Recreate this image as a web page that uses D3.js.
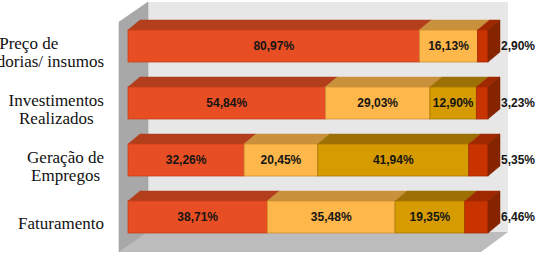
<!DOCTYPE html>
<html>
<head>
<meta charset="utf-8">
<script src="https://cdn.jsdelivr.net/npm/d3@7"></script>
<style>
  body { margin: 0; background: #fff; }
  svg { display: block; }
</style>
</head>
<body>
<div id="canvas"></div>
<script>
// DATA
const categories = [
  ["Preço de", "Mercadorias/ insumos"],
  ["Investimentos", "Realizados"],
  ["Geração de", "Empregos"],
  ["Faturamento"]
];
const serie1 = [80.97, 54.84, 32.26, 38.71];
const serie2 = [16.13, 29.03, 20.45, 35.48];
const serie3 = [0, 12.90, 41.94, 19.35];
const serie4 = [2.90, 3.23, 5.35, 6.46];
const series = [serie1, serie2, serie3, serie4];

// STYLES
const fronts = ["#E84E23", "#FDB74A", "#D59B00", "#C83300"];
const tops = ["#B23E1C", "#C9913C", "#9C7004", "#A02800"];
const strokes = ["#C44219", "#D18C30", "#A87800", "#A82A00"];
const sideColor = "#862400";

// DIMENSIONS
const width = 540;
const height = 269;
const depth = { x: 12, y: -10 };

const canvas = d3.select("#canvas")
  .append("svg")
  .attr("width", width)
  .attr("height", height);

// WALLS AND FLOOR
canvas.append("rect")
  .attr("x", 148).attr("y", 2)
  .attr("width", 360).attr("height", 230)
  .attr("fill", "#e7e7e7");

canvas.append("polygon")
  .attr("points", "119,22 148,2 148,232 119,252")
  .attr("fill", "#a8a8a8")
  .attr("stroke", "#999").attr("stroke-width", 0.5);

canvas.append("polygon")
  .attr("points", "119,252 148,232 508,232 481,252")
  .attr("fill", "#bcbcbc");

// SCALES
const x = d3.scaleLinear().domain([0, 100]).range([128, 488]);
const y = d3.scaleBand()
  .domain(d3.range(categories.length))
  .range([17.5, 245.5])
  .paddingInner(0.4386)
  .paddingOuter(0.2193);

const plot = canvas.append("g");

categories.forEach((cat, i) => {
  const y0 = y(i);
  const h = y.bandwidth();
  let acc = 0;
  const segs = series.map((s, k) => {
    const seg = { k: k, v: s[i], x0: x(acc), x1: x(acc + s[i]) };
    acc += s[i];
    return seg;
  }).filter(d => d.v > 0);

  const g = plot.append("g");

  // top faces
  g.selectAll("polygon.top")
    .data(segs)
    .join("polygon")
    .attr("class", "top")
    .attr("points", d => [
      [d.x0, y0], [d.x1, y0],
      [d.x1 + depth.x, y0 + depth.y], [d.x0 + depth.x, y0 + depth.y]
    ].join(" "))
    .attr("fill", d => tops[d.k])
    .attr("stroke", d => tops[d.k])
    .attr("stroke-width", 0.5);

  // front faces
  g.selectAll("rect.front")
    .data(segs)
    .join("rect")
    .attr("class", "front")
    .attr("x", d => d.x0)
    .attr("y", y0)
    .attr("width", d => d.x1 - d.x0)
    .attr("height", h)
    .attr("fill", d => fronts[d.k])
    .attr("stroke", d => strokes[d.k])
    .attr("stroke-width", 0.8);

  // end cap
  const last = segs[segs.length - 1];
  g.append("polygon")
    .attr("points", [
      [last.x1, y0], [last.x1 + depth.x, y0 + depth.y],
      [last.x1 + depth.x, y0 + h + depth.y], [last.x1, y0 + h]
    ].join(" "))
    .attr("fill", sideColor)
    .attr("stroke", "#7a2000")
    .attr("stroke-width", 0.5);

  // value labels
  g.selectAll("text.val")
    .data(segs)
    .join("text")
    .attr("class", "val")
    .attr("x", d => d.k === 3 ? x(100) + depth.x + 1 : (d.x0 + d.x1) / 2)
    .attr("y", y0 + h / 2 + 4)
    .attr("text-anchor", d => d.k === 3 ? "start" : "middle")
    .style("font-family", "Liberation Sans, Arial, sans-serif")
    .style("font-weight", "bold")
    .style("font-size", "12px")
    .attr("fill", "#151515")
    .text(d => d.v.toFixed(2).replace(".", ",") + "%");

  // category labels
  const lh = 18.5;
  const lab = canvas.append("text")
    .style("font-family", "Liberation Serif, Times New Roman, serif")
    .style("font-size", "17px")
    .attr("fill", "#111");
  const tsp = lab.selectAll("tspan")
    .data(cat)
    .join("tspan")
    .attr("y", (d, j) => y0 + h / 2 + 12 - (cat.length - 1) * lh / 2 + j * lh)
    .attr("text-anchor", "middle")
    .text(d => d);
  let maxW = 0;
  tsp.each(function () { maxW = Math.max(maxW, this.getComputedTextLength()); });
  tsp.attr("x", 104 - maxW / 2);
});
</script>
</body>
</html>
